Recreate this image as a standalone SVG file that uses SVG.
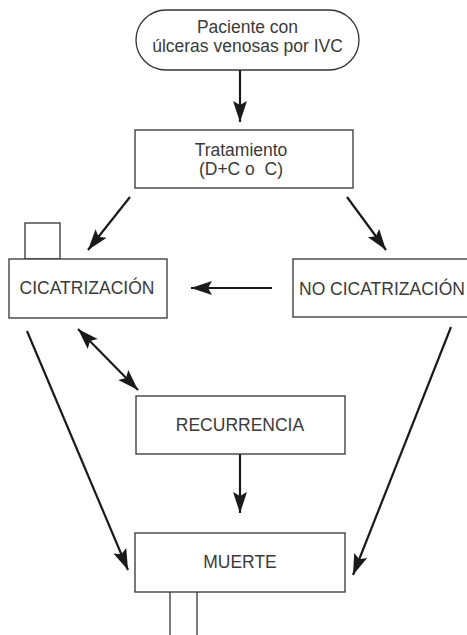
<svg xmlns="http://www.w3.org/2000/svg" width="467" height="635" viewBox="0 0 467 635">
  <style>
    .box { fill: #ffffff; stroke: #333333; stroke-width: 1.3; }
    .lbl { font-family: "Liberation Sans", Arial, sans-serif; font-size: 17.5px; fill: #3a3a3a; }
    .c { text-anchor: middle; }
    .arr { stroke: #1a1a1a; stroke-width: 2.2; fill: none; }
    .thin { stroke: #333333; stroke-width: 1.3; fill: none; }
  </style>
  <defs>
    <marker id="ah" markerUnits="userSpaceOnUse" markerWidth="24" markerHeight="16" refX="21" refY="7" orient="auto-start-reverse">
      <path d="M0,0 L21,7 L0,14 L4,7 z" fill="#1a1a1a"/>
    </marker>
  </defs>
  <rect width="467" height="635" fill="#ffffff"/>

  <g id="connectors">
    <line class="arr" x1="240" y1="70" x2="240" y2="122" marker-end="url(#ah)"/>
    <line class="arr" x1="130" y1="197" x2="88" y2="250" marker-end="url(#ah)"/>
    <line class="arr" x1="347" y1="197" x2="386" y2="250" marker-end="url(#ah)"/>
    <line class="arr" x1="272" y1="288" x2="191" y2="288" marker-end="url(#ah)"/>
    <line class="arr" x1="78" y1="329" x2="138" y2="390" marker-start="url(#ah)" marker-end="url(#ah)"/>
    <line class="arr" x1="27" y1="331" x2="128" y2="570" marker-end="url(#ah)"/>
    <line class="arr" x1="451" y1="327" x2="353" y2="575" marker-end="url(#ah)"/>
    <line class="arr" x1="240" y1="454" x2="240" y2="513" marker-end="url(#ah)"/>
    <line class="thin" x1="170" y1="592" x2="170" y2="635"/>
    <line class="thin" x1="197" y1="592" x2="197" y2="635"/>
  </g>

  <g id="paciente">
    <rect class="box" x="136" y="10" width="223" height="60" rx="30" ry="30"/>
    <text class="lbl c" x="247.5" y="33" font-size="18">Paciente con</text>
    <text class="lbl c" x="247.5" y="52" font-size="18">úlceras venosas por IVC</text>
  </g>

  <g id="tratamiento">
    <rect class="box" x="135" y="130" width="218" height="58"/>
    <text class="lbl c" x="241" y="156" font-size="17">Tratamiento</text>
    <text class="lbl c" x="241" y="175" font-size="17">(D+C o&#160; C)</text>
  </g>

  <g id="cicatrizacion">
    <rect class="box" x="25" y="223" width="35" height="36"/>
    <rect class="box" x="9" y="259" width="158" height="59"/>
    <text class="lbl c" x="87" y="294">CICATRIZACIÓN</text>
  </g>

  <g id="no-cicatrizacion">
    <rect class="box" x="293" y="259" width="180" height="58"/>
    <text class="lbl" x="299" y="295">NO CICATRIZACIÓN</text>
  </g>

  <g id="recurrencia">
    <rect class="box" x="136" y="396" width="209" height="58"/>
    <text class="lbl c" x="240" y="431">RECURRENCIA</text>
  </g>

  <g id="muerte">
    <rect class="box" x="135" y="533" width="210" height="59"/>
    <text class="lbl c" x="240" y="568">MUERTE</text>
  </g>
</svg>
